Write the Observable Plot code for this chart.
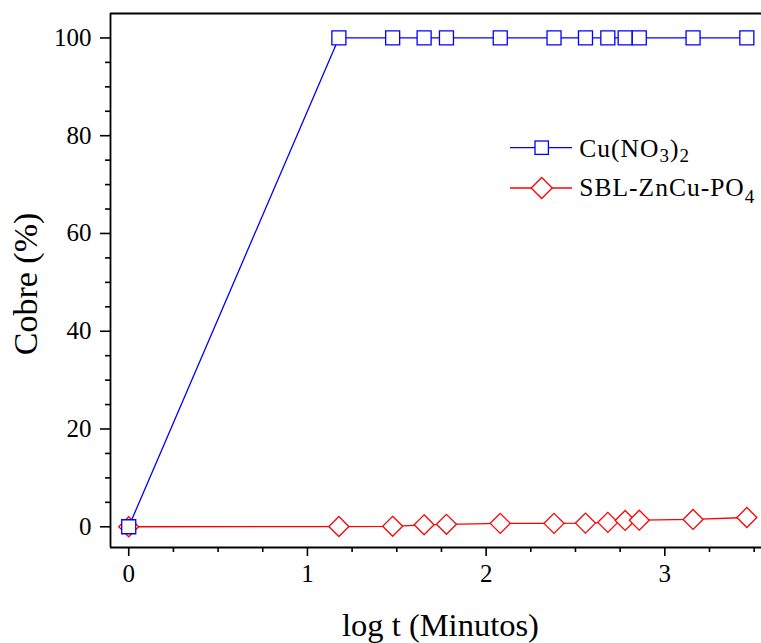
<!DOCTYPE html>
<html>
<head>
<meta charset="utf-8">
<script src="https://cdn.jsdelivr.net/npm/d3@7"></script>
<script src="https://cdn.jsdelivr.net/npm/@observablehq/plot@0.6"></script>
<style>
  html, body { margin: 0; padding: 0; background: #fff; }
  #wrap { position: relative; width: 761px; height: 643px; font-family: "Liberation Serif", serif; }
  #legend { position: absolute; left: 0; top: 0; pointer-events: none; }
</style>
</head>
<body>
<div id="wrap">
  <div id="chart"></div>
  <svg id="legend" width="761" height="643" font-family="Liberation Serif">
    <line x1="510" y1="147.7" x2="572" y2="147.7" stroke="#0000ff" stroke-width="1.3"/>
    <rect x="535" y="141" width="13.4" height="13.4" fill="#fff" stroke="#0000ff" stroke-width="1.3"/>
    <text x="579.3" y="156.7" font-size="25.5" letter-spacing="1" fill="#000">Cu(NO<tspan font-size="19" dy="5.5">3</tspan><tspan dy="-5.5">)</tspan><tspan font-size="19" dy="5.5">2</tspan></text>
    <line x1="510" y1="188" x2="572" y2="188" stroke="#ff0000" stroke-width="1.3"/>
    <path d="M541.7,177.5 L552.2,188 L541.7,198.5 L531.2,188 Z" fill="#fff" stroke="#ff0000" stroke-width="1.3"/>
    <text x="579.3" y="196.3" font-size="25.5" letter-spacing="1" fill="#000">SBL-ZnCu-PO<tspan font-size="19" dy="7">4</tspan></text>
  </svg>
</div>
<script>
// log10 of time in minutes
const logT = [0, 1.176, 1.477, 1.653, 1.778, 2.079, 2.380, 2.556, 2.681, 2.778, 2.857, 3.158, 3.459];
const cuNO3 = [0, 100, 100, 100, 100, 100, 100, 100, 100, 100, 100, 100, 100];
const sblZnCuPO4 = [0, 0.05, 0.1, 0.4, 0.5, 0.7, 0.7, 0.75, 0.9, 1.3, 1.35, 1.5, 1.9];
const xMajorTicks = [0, 1, 2, 3];
const xMinorTicks = [0.25, 0.5, 0.75, 1.25, 1.5, 1.75, 2.25, 2.5, 2.75, 3.25, 3.5];
const yMajorTicks = [0, 20, 40, 60, 80, 100];
const yMinorTicks = [5, 10, 15, 25, 30, 35, 45, 50, 55, 65, 70, 75, 85, 90, 95];
const xLabel = "log t (Minutos)";
const yLabel = "Cobre (%)";

const blue = logT.map((x, i) => ({x, y: cuNO3[i]}));
const red = logT.map((x, i) => ({x, y: sblZnCuPO4[i]}));

const font = "Liberation Serif";

const chart = Plot.plot({
  width: 761,
  height: 643,
  marginLeft: 110,
  marginRight: 0,
  marginTop: 13,
  marginBottom: 96,
  style: {fontFamily: font, background: "#fff", color: "#000", overflow: "visible"},
  x: {domain: [-0.102, 3.541]},
  y: {domain: [-4.24, 105]},
  marks: [
    // frame lines
    Plot.ruleX([-0.102], {stroke: "#000", strokeWidth: 1.8}),
    Plot.ruleY([105], {stroke: "#000", strokeWidth: 1.8}),
    Plot.ruleY([-4.24], {stroke: "#000", strokeWidth: 1.8}),
    // axes
    Plot.axisX({ticks: xMinorTicks, tickSize: 5, text: null, label: null, strokeWidth: 1.6}),
    Plot.axisX({ticks: xMajorTicks, tickSize: 9, tickPadding: 8, fontSize: 25, fontFamily: font, label: null, strokeWidth: 1.6, tickFormat: d => String(d)}),
    Plot.axisY({ticks: yMinorTicks, tickSize: 5, text: null, label: null, strokeWidth: 1.6}),
    Plot.axisY({ticks: yMajorTicks, tickSize: 10, tickPadding: 9, fontSize: 25, fontFamily: font, label: null, strokeWidth: 1.6}),
    Plot.text([xLabel], {frameAnchor: "bottom", textAnchor: "middle", dx: 4.5, dy: 88, fontSize: 32.5, fontFamily: font, fill: "#000"}),
    Plot.text([yLabel], {frameAnchor: "left", textAnchor: "middle", lineAnchor: "middle", dx: -84.2, dy: 3.5, rotate: -90, fontSize: 34, fontFamily: font, fill: "#000"}),
    // red series
    Plot.line(red, {x: "x", y: "y", stroke: "#ff0000", strokeWidth: 1.3}),
    Plot.dot(red, {x: "x", y: "y", symbol: "diamond2", r: 9, stroke: "#ff0000", fill: "#fff", strokeWidth: 1.3}),
    // blue series
    Plot.line(blue, {x: "x", y: "y", stroke: "#0000ff", strokeWidth: 1.3}),
    Plot.dot(blue, {x: "x", y: "y", symbol: "square", r: 7.9, stroke: "#0000ff", fill: "#fff", strokeWidth: 1.3})
  ]
});
document.getElementById("chart").appendChild(chart);
</script>
</body>
</html>
